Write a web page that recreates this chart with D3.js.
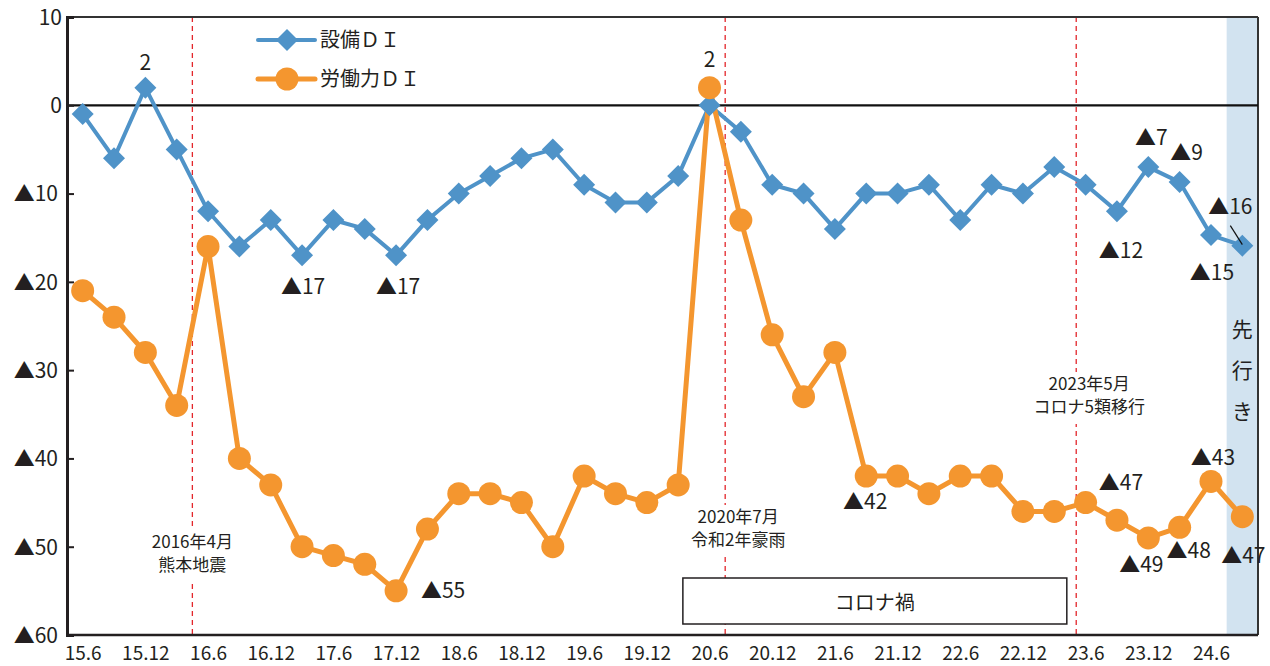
<!DOCTYPE html>
<html lang="ja">
<head>
<meta charset="UTF-8">
<title>設備DI・労働力DI</title>
<style>
  body { margin: 0; background: #fff; }
  svg text { font-family: "Noto Sans CJK JP", "Noto Sans", sans-serif; fill: #231f20; }
</style>
</head>
<body>
<svg id="chart" width="1270" height="666"></svg>
<script src="https://cdn.jsdelivr.net/npm/d3@7/dist/d3.min.js"></script>
<script>
  // quarters (yy.m), last one is the forecast
  var quarters = ["15.6","15.9","15.12","16.3","16.6","16.9","16.12","17.3","17.6","17.9",
    "17.12","18.3","18.6","18.9","18.12","19.3","19.6","19.9","19.12","20.3",
    "20.6","20.9","20.12","21.3","21.6","21.9","21.12","22.3","22.6","22.9",
    "22.12","23.3","23.6","23.9","23.12","24.3","24.6","24.9"];
  var tickLabels = ["15.6","15.12","16.6","16.12","17.6","17.12","18.6","18.12","19.6","19.12",
    "20.6","20.12","21.6","21.12","22.6","22.12","23.6","23.12","24.6"];
  var yTicks = [10, 0, -10, -20, -30, -40, -50, -60];

  // 設備DI
  var equipDI = [-1, -6, 2, -5, -12, -16, -13, -17, -13, -14,
    -17, -13, -10, -8, -6, -5, -9, -11, -11, -8,
    0, -3, -9, -10, -14, -10, -10, -9, -13, -9,
    -10, -7, -9, -12, -7, -8.7, -14.7, -15.9];
  // 労働力DI
  var laborDI = [-21, -24, -28, -34, -16, -40, -43, -50, -51, -52,
    -55, -48, -44, -44, -45, -50, -42, -44, -45, -43,
    2, -13, -26, -33, -28, -42, -42, -44, -42, -42,
    -46, -46, -45, -47, -49, -47.8, -42.6, -46.6];

  // quarters that get a value label
  var equipLabelIdx = [2, 7, 10, 33, 34, 35, 36, 37];
  var laborLabelIdx = [10, 20, 25, 33, 34, 35, 36, 37];

  // events (position as fractional quarter index)
  var events = [
    {at: 3.5, lines: ["2016年4月", "熊本地震"]},
    {at: 20.5, lines: ["2020年7月", "令和2年豪雨"]},
    {at: 31.7, lines: ["2023年5月", "コロナ5類移行"]}
  ];
  var covid = {from: 19.15, to: 31.4, text: "コロナ禍"};
  var forecastFrom = 36.5;

  var blue = "#4f93c8", orange = "#f4962f";
  var pLeft = 67, pRight = 1258, pTop = 17, pBottom = 635;

  var svg = d3.select("#chart");

  var x = d3.scalePoint().domain(quarters).range([pLeft, pRight]).padding(0.5);
  var xi = function(i) { return x(quarters[0]) + i * x.step(); };
  var y = d3.scaleLinear().domain([-60, 10]).range([pBottom, pTop]);

  function fmt(v) {
    var r = Math.round(v);
    return r < 0 ? "▲" + (-r) : String(r);
  }

  // forecast shading
  svg.append("rect")
    .attr("x", xi(forecastFrom)).attr("y", pTop)
    .attr("width", pRight - xi(forecastFrom)).attr("height", pBottom - pTop)
    .attr("fill", "#d2e3f0");
  ["先", "行", "き"].forEach(function(c, i) {
    svg.append("text")
      .attr("x", xi(37)).attr("y", 330 + i * 41).attr("dy", "0.35em")
      .attr("text-anchor", "middle").style("font-size", "21px").text(c);
  });

  // event lines and notes
  var labelTop = {0: 530, 1: 505, 2: 372};
  events.forEach(function(ev, k) {
    var ex = xi(ev.at);
    svg.append("line")
      .attr("x1", ex).attr("x2", ex).attr("y1", pTop).attr("y2", pBottom)
      .attr("stroke", "#e3262b").attr("stroke-width", 1.3)
      .attr("stroke-dasharray", "5,4");
    var t0 = labelTop[k];
    svg.append("rect")
      .attr("x", ex - 58).attr("y", t0).attr("width", 116).attr("height", 52)
      .attr("fill", "#fff");
    ev.lines.forEach(function(line, j) {
      svg.append("text")
        .attr("x", ex + (k === 0 ? 0 : 13)).attr("y", t0 + 12 + j * 23).attr("dy", "0.35em")
        .attr("text-anchor", "middle").style("font-size", "17px").text(line);
    });
  });

  // covid box
  svg.append("rect")
    .attr("x", xi(covid.from)).attr("y", 578)
    .attr("width", xi(covid.to) - xi(covid.from)).attr("height", 46)
    .attr("fill", "#fff").attr("stroke", "#231f20").attr("stroke-width", 1.5);
  svg.append("text")
    .attr("x", (xi(covid.from) + xi(covid.to)) / 2).attr("y", 603).attr("dy", "0.35em")
    .attr("text-anchor", "middle").style("font-size", "20px").text(covid.text);

  // frame
  svg.append("line").attr("x1", pLeft).attr("x2", pRight).attr("y1", pTop).attr("y2", pTop)
    .attr("stroke", "#333").attr("stroke-width", 2);
  svg.append("line").attr("x1", pRight).attr("x2", pRight).attr("y1", pTop).attr("y2", pBottom)
    .attr("stroke", "#333").attr("stroke-width", 2);
  svg.append("line").attr("x1", pLeft).attr("x2", pRight).attr("y1", y(0)).attr("y2", y(0))
    .attr("stroke", "#111").attr("stroke-width", 2.2);

  // axes
  var yAxis = svg.append("g")
    .attr("transform", "translate(" + pLeft + ",0)")
    .call(d3.axisRight(y).tickValues(yTicks).tickSize(7).tickFormat(fmt));
  yAxis.select(".domain").attr("stroke", "#231f20").attr("stroke-width", 3);
  yAxis.selectAll(".tick line").attr("stroke", "#231f20").attr("stroke-width", 2);
  yAxis.selectAll(".tick text")
    .attr("x", function(d) { return d < 0 ? -9 : -5; })
    .attr("text-anchor", "end").attr("dy", "0.35em")
    .style("font-size", "21px").attr("fill", "#231f20");

  var xAxis = svg.append("g")
    .attr("transform", "translate(0," + pBottom + ")")
    .call(d3.axisBottom(x).tickValues(tickLabels).tickSize(0).tickPadding(12));
  xAxis.select(".domain").attr("stroke", "#231f20").attr("stroke-width", 2.5)
    .attr("d", "M" + pLeft + ",0H" + pRight);
  xAxis.selectAll(".tick text").style("font-size", "19px").attr("fill", "#231f20")
    .attr("dy", "0.71em");

  // lines
  var line = function(vals) {
    return d3.line().x(function(d, i) { return x(quarters[i]); }).y(function(d) { return y(d); })(vals);
  };
  svg.append("path").attr("d", line(equipDI))
    .attr("fill", "none").attr("stroke", blue).attr("stroke-width", 4);
  svg.append("path").attr("d", line(laborDI))
    .attr("fill", "none").attr("stroke", orange).attr("stroke-width", 5);

  var diamond = "M0,-11L11,0L0,11L-11,0Z";
  svg.selectAll(".eq").data(equipDI).enter().append("path")
    .attr("class", "eq").attr("d", diamond).attr("fill", blue)
    .attr("transform", function(d, i) { return "translate(" + x(quarters[i]) + "," + y(d) + ")"; });
  svg.selectAll(".lb").data(laborDI).enter().append("circle")
    .attr("class", "lb").attr("r", 11.5).attr("fill", orange)
    .attr("cx", function(d, i) { return x(quarters[i]); })
    .attr("cy", function(d) { return y(d); });

  // value labels
  var equipOff = {2: [0, -25], 7: [1, 31], 10: [2, 31], 33: [4, 39], 34: [3, -29],
    35: [7, -29], 36: [1, 38], 37: [-12, -39]};
  var laborOff = {10: [47, 0], 20: [0, -28], 25: [-1, 26], 33: [4, -38], 34: [-7, 27],
    35: [9, 23], 36: [2, -24], 37: [1, 39]};
  function valueLabels(idx, vals, off) {
    idx.forEach(function(i) {
      svg.append("text")
        .attr("x", x(quarters[i]) + off[i][0]).attr("y", y(vals[i]) + off[i][1])
        .attr("dy", "0.35em").attr("text-anchor", "middle")
        .style("font-size", "21px").text(fmt(vals[i]));
    });
  }
  valueLabels(equipLabelIdx, equipDI, equipOff);
  valueLabels(laborLabelIdx, laborDI, laborOff);
  // leader for the forecast label
  svg.append("line")
    .attr("x1", x(quarters[37]) - 12).attr("y1", y(equipDI[37]) - 20)
    .attr("x2", x(quarters[37])).attr("y2", y(equipDI[37]) - 1)
    .attr("stroke", "#111").attr("stroke-width", 1.2);

  // legend
  var legend = [{name: "設備ＤＩ", color: blue, w: 4, sym: "d"},
    {name: "労働力ＤＩ", color: orange, w: 5, sym: "c"}];
  legend.forEach(function(l, k) {
    var ly = 40 + k * 39;
    svg.append("line").attr("x1", 258).attr("x2", 315).attr("y1", ly).attr("y2", ly)
      .attr("stroke", l.color).attr("stroke-width", l.w).attr("stroke-linecap", "round");
    if (l.sym === "d") {
      svg.append("path").attr("d", diamond).attr("fill", l.color)
        .attr("transform", "translate(287," + ly + ")");
    } else {
      svg.append("circle").attr("cx", 287).attr("cy", ly).attr("r", 11.5).attr("fill", l.color);
    }
    svg.append("text").attr("x", 320).attr("y", ly).attr("dy", "0.35em")
      .style("font-size", "20px").text(l.name);
  });
</script>
</body>
</html>
